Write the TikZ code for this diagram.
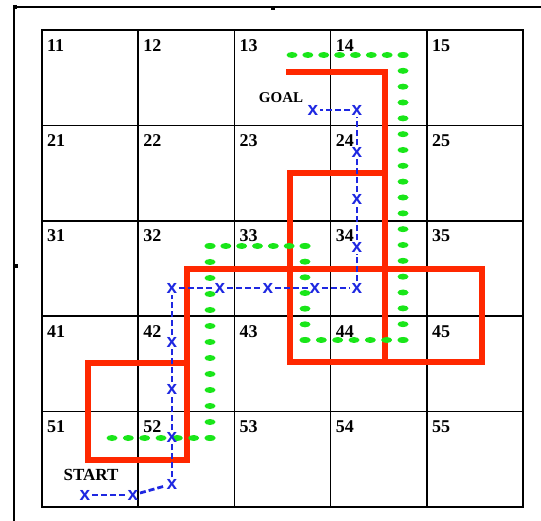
\documentclass[tikz,border=0pt]{standalone}
\usepackage{fontspec}
\setmainfont{Liberation Serif}
\setsansfont{Liberation Sans}
\newfontfamily\labfont{Liberation Serif Bold}
\newfontfamily\xfont{Liberation Sans Bold}
\definecolor{rd}{RGB}{255,40,0}
\definecolor{gn}{RGB}{25,230,25}
\definecolor{bl}{RGB}{30,40,225}
\begin{document}
\begin{tikzpicture}[x=1pt,y=-1pt,
  gridline/.style={line width=1.6pt,black},
  frameline/.style={line width=1.4pt,black},
  redline/.style={line width=5.5pt,rd,line join=miter,line cap=rect},
  lab/.style={anchor=north west,inner sep=0pt,font=\labfont\fontsize{18}{18}\selectfont},
  bigword/.style={inner sep=0pt},
  bx/.style={inner sep=1.5pt,text=bl,font=\xfont\fontsize{19}{19}\selectfont},
  bline/.style={bl,line width=2.8pt,dash pattern=on 6pt off 3pt},
  gdot/.style={fill=gn}]
\useasboundingbox (0,0) rectangle (541,521);
% outer frame
\draw[frameline] (14,7) -- (541,7);
\draw[frameline] (14,7) -- (14,521);
\fill (13,5) rectangle (17,9);
\fill (271,6) rectangle (275,10);
\fill (14,264) rectangle (18,268);
% grid
\foreach \i in {0,...,5} {
  \draw[gridline] ({42+96.2*\i},30) -- ({42+96.2*\i},507);
  \draw[gridline] (42,{30+95.4*\i}) -- (523,{30+95.4*\i});
}
\draw[line width=2.2pt] (42,30) rectangle (523,507);
% cell labels
\foreach \r in {1,...,5} {
  \foreach \c in {1,...,5} {
    \node[lab] (c\r\c) at ({42+96.2*(\c-1)+5},{30+95.4*(\r-1)+9}) {\r\c};
  }
}
\node[bigword,font=\labfont\fontsize{15}{15}\selectfont] (goal) at (281,98) {GOAL};
\node[bigword,font=\labfont\fontsize{17}{17}\selectfont] (start) at (91,475) {START};
% red path
\draw[redline] (289,72) -- (385,72) -- (385,362);
\draw[redline] (385,173) -- (290,173) -- (290,362) -- (482,362) -- (482,269) -- (187,269) -- (187,460);
\draw[redline] (88,363) rectangle (187,460);
% green dotted path
\foreach \ax/\ay/\bx/\by/\n in {292/55/403/55/7, 403/55/403/340/18, 403/340/305/340/6,
    305/340/305/246/6, 305/246/210/246/6, 210/246/210/438/12, 210/438/112/438/6} {
  \foreach \i in {0,...,\n} {
    \fill[gdot] ({\ax+(\bx-\ax)*\i/\n},{\ay+(\by-\ay)*\i/\n}) ellipse (5.5pt and 3pt);
  }
}
% blue path
\foreach \n/\x/\y in {1/85/495, 2/133/495, 3/172/484, 4/172/437, 5/172/389, 6/172/342,
    7/172/288, 8/220/288, 9/268/288, 10/315/288, 11/357/288, 12/357/247, 13/357/199,
    14/357/152, 15/357/110, 16/313/110} {
  \node[bx] (b\n) at (\x,\y) {x};
}
\foreach \a/\b in {1/2,2/3,3/4,4/5,5/6,6/7,7/8,8/9,9/10,10/11,11/12,12/13,13/14,14/15,15/16} {
  \draw[bline] (b\a) -- (b\b);
}
\end{tikzpicture}
\end{document}
